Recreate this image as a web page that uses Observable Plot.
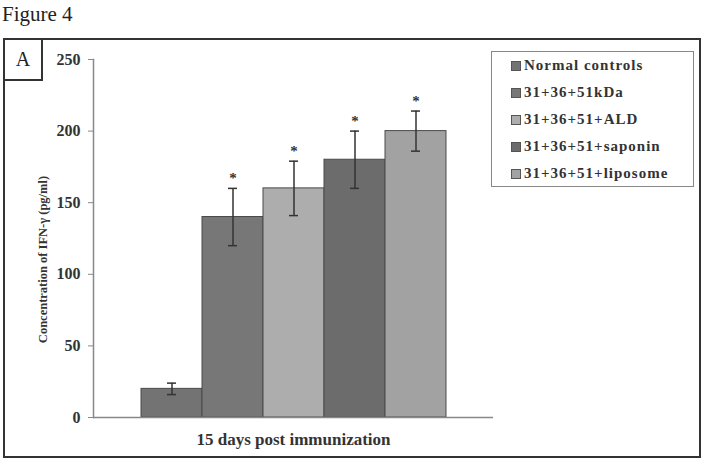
<!DOCTYPE html>
<html>
<head>
<meta charset="utf-8">
<script src="https://cdn.jsdelivr.net/npm/d3@7"></script>
<script src="https://cdn.jsdelivr.net/npm/@observablehq/plot@0.6"></script>
<style>
  body { margin: 0; background: #fff; }
  #wrap { position: relative; width: 710px; height: 465px; font-family: "Liberation Serif", "Times New Roman", serif; }
  #fig { position: absolute; left: 2px; top: 2px; font-size: 21px; color: #222; }
  #frame { position: absolute; left: 3px; top: 38px; width: 698px; height: 420px; box-sizing: border-box; border: 2px solid #333; }
  #abox { position: absolute; left: 3px; top: 38px; width: 40px; height: 43px; box-sizing: border-box; border: 2px solid #333; font-size: 20px; display: flex; align-items: center; justify-content: center; color: #222; }
  #chart { position: absolute; left: 3px; top: 38px; }
  #legend { position: absolute; left: 491px; top: 51px; width: 203px; height: 136px; box-sizing: border-box; border: 1.5px solid #888; padding: 0 0 0 19px; }
  .li { display: flex; align-items: center; height: 27px; font-weight: bold; font-size: 15px; letter-spacing: 1px; color: #333; }
  .sw { width: 8px; height: 8px; margin-right: 3px; border: 1px solid #555; }
</style>
</head>
<body>
<div id="wrap">
  <div id="fig">Figure 4</div>
  <div id="frame"></div>
  <div id="chart"></div>
  <div id="abox">A</div>
  <div id="legend"></div>
</div>
<script>
const groups = ["Normal controls", "31+36+51kDa", "31+36+51+ALD", "31+36+51+saponin", "31+36+51+liposome"];
const values = [20, 140, 160, 180, 200];
const errors = [4, 20, 19, 20, 14];
const stars = ["", "*", "*", "*", "*"];
const colors = ["#737373", "#777777", "#adadad", "#6c6c6c", "#a2a2a2"];
const yTicks = [0, 50, 100, 150, 200, 250];
const xLabel = "15 days post immunization";
const yLabel = "Concentration of IFN-\u03b3 (pg/ml)";

const data = groups.map((g, i) => ({g, v: values[i], e: errors[i], s: stars[i]}));

const plot = Plot.plot({
  width: 698,
  height: 420,
  marginLeft: 90,
  marginRight: 208,
  marginTop: 21,
  marginBottom: 41,
  style: {fontFamily: "'Liberation Serif', 'Times New Roman', serif", background: "transparent"},
  x: {domain: groups, paddingInner: 0, paddingOuter: 0.77, axis: null},
  y: {domain: [0, 250], ticks: yTicks, axis: null},
  color: {domain: groups, range: colors},
  marks: [
    Plot.barY(data, {x: "g", y: "v", fill: "g", stroke: "#4a4a4a", strokeWidth: 1}),
    Plot.frame({anchor: "left", stroke: "#888", strokeWidth: 1.5}),
    Plot.ruleY([0], {stroke: "#888", strokeWidth: 1.5}),
    Plot.axisY({ticks: yTicks, tickSize: 5, tickPadding: 8, fontSize: 16, fontWeight: "bold", stroke: "#888", fill: "#333", label: null}),
    Plot.ruleX(data, {x: "g", y1: d => d.v - d.e, y2: d => d.v + d.e, stroke: "#333", strokeWidth: 1.5}),
    Plot.tickY(data, {x: "g", y: d => d.v + d.e, insetLeft: 26, insetRight: 26, stroke: "#333", strokeWidth: 1.5}),
    Plot.tickY(data, {x: "g", y: d => d.v - d.e, insetLeft: 26, insetRight: 26, stroke: "#333", strokeWidth: 1.5}),
    Plot.text(data, {x: "g", y: d => d.v + d.e, text: "s", dy: -5, lineAnchor: "bottom", fontSize: 15, fontWeight: "bold", fill: "#333"}),
    Plot.text([yLabel], {frameAnchor: "left", textAnchor: "middle", lineAnchor: "middle", dx: -51, dy: 21, rotate: -90, fontSize: 12.5, fontWeight: "bold", fill: "#333"}),
    Plot.text([xLabel], {frameAnchor: "bottom", lineAnchor: "middle", dy: 22, fontSize: 17, fontWeight: "bold", fill: "#333"})
  ]
});
document.getElementById("chart").appendChild(plot);

const legend = document.getElementById("legend");
groups.forEach((g, i) => {
  const row = document.createElement("div");
  row.className = "li";
  const sw = document.createElement("span");
  sw.className = "sw";
  sw.style.background = colors[i];
  const t = document.createElement("span");
  t.textContent = g;
  row.appendChild(sw);
  row.appendChild(t);
  legend.appendChild(row);
});
</script>
</body>
</html>
